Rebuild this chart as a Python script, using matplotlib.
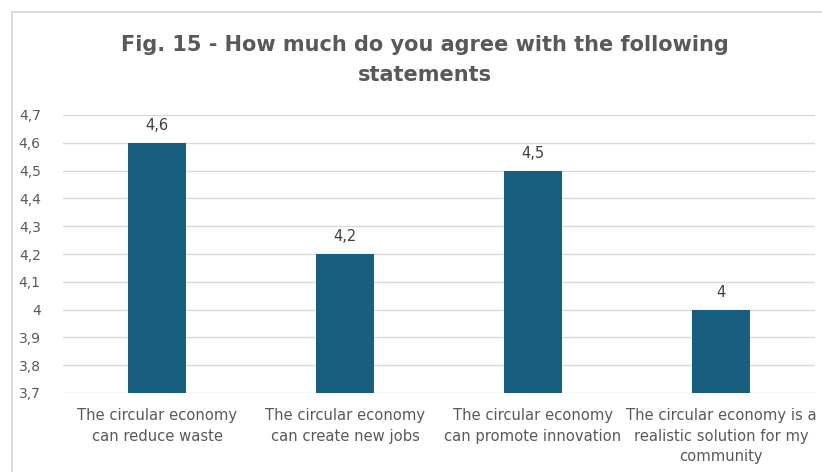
import matplotlib
matplotlib.use("Agg")
import matplotlib.pyplot as plt
from matplotlib.lines import Line2D
from matplotlib.ticker import FixedLocator

categories = [
    "The circular economy\ncan reduce waste",
    "The circular economy\ncan create new jobs",
    "The circular economy\ncan promote innovation",
    "The circular economy is a\nrealistic solution for my\ncommunity",
]
values = [4.6, 4.2, 4.5, 4.0]
value_labels = ["4,6", "4,2", "4,5", "4"]
yticks = [3.7, 3.8, 3.9, 4.0, 4.1, 4.2, 4.3, 4.4, 4.5, 4.6, 4.7]
ytick_labels = ["3,7", "3,8", "3,9", "4", "4,1", "4,2", "4,3", "4,4", "4,5", "4,6", "4,7"]

bar_color = "#175E7F"
text_color = "#595959"
grid_color = "#D9D9D9"

fig = plt.figure(figsize=(8.22, 4.72), dpi=100)
ax = fig.add_axes([63 / 822, 1 - 393 / 472, (815 - 63) / 822, (393 - 115) / 472])

x = list(range(len(categories)))
ax.bar(x, [v - 3.7 for v in values], bottom=3.7, width=0.31, color=bar_color, zorder=3)
for xi, v, lab in zip(x, values, value_labels):
    ax.text(xi, v + 0.035, lab, ha="center", va="bottom", fontsize=10.5,
            color="#404040", family="DejaVu Sans")

ax.set_xlim(-0.5, len(categories) - 0.5)
ax.set_ylim(3.7, 4.7)
ax.yaxis.set_major_locator(FixedLocator(yticks))
ax.set_yticklabels(ytick_labels, color=text_color, fontsize=10)
ax.set_xticks(x)
ax.set_xticklabels(categories, color=text_color, fontsize=10.6, linespacing=1.45)
ax.tick_params(axis="both", length=0)
ax.tick_params(axis="x", pad=11)
ax.tick_params(axis="y", pad=16)
ax.grid(axis="y", color=grid_color, linewidth=1.0, zorder=0)
for s in ax.spines.values():
    s.set_visible(False)

# chart frame
fig.add_artist(Line2D([12 / 822, 12 / 822], [0, 1 - 12 / 472], color="#D6D6D6", linewidth=1.2))
fig.add_artist(Line2D([12 / 822, 1], [1 - 12 / 472, 1 - 12 / 472], color="#D6D6D6", linewidth=1.2))

fig.text(425 / 822, 1 - 60 / 472,
         "Fig. 15 - How much do you agree with the following\nstatements",
         ha="center", va="center", fontsize=15, fontweight="bold", color=text_color,
         family="DejaVu Sans", linespacing=1.65)

fig.savefig("out.png", dpi=100)
